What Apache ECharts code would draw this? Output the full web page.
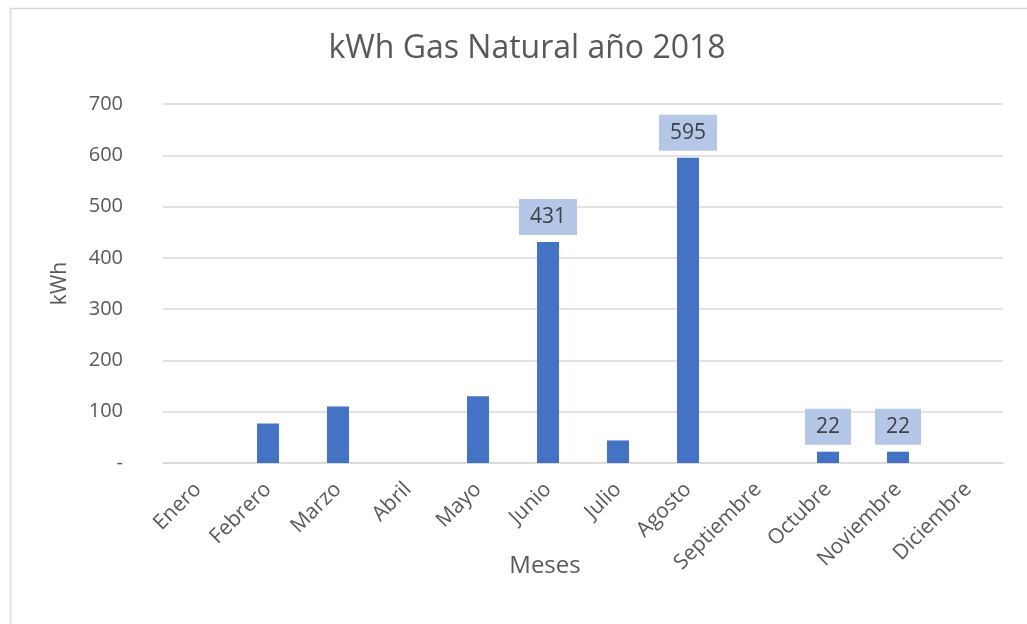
<!DOCTYPE html>
<html>
<head>
<meta charset="utf-8">
<script src="https://cdn.jsdelivr.net/npm/echarts@6/dist/echarts.min.js"></script>
<style>
  html, body { margin: 0; padding: 0; background: #fff; }
  #chart { width: 1027px; height: 624px; }
</style>
</head>
<body>
<div id="chart"></div>
<script>
var meses = ['Enero', 'Febrero', 'Marzo', 'Abril', 'Mayo', 'Junio', 'Julio', 'Agosto', 'Septiembre', 'Octubre', 'Noviembre', 'Diciembre'];
var kwh = [0, 77, 110, 0, 130, 431, 44, 595, 0, 22, 22, 0];
// months whose value is printed above the bar
var conEtiqueta = ['Junio', 'Agosto', 'Octubre', 'Noviembre'];

var fuente = '"Open Sans", "Noto Sans", sans-serif';

var datos = [];
for (var i = 0; i < kwh.length; i++) {
    var punto = { value: kwh[i] };
    if (conEtiqueta.indexOf(meses[i]) >= 0) {
        punto.label = {
            show: true,
            position: 'top',
            distance: 7,
            backgroundColor: '#B4C7E7',
            padding: [8, 11, 7, 11],
            color: '#404040',
            fontSize: 21,
            fontFamily: fuente
        };
    }
    datos.push(punto);
}

var chart = echarts.init(document.getElementById('chart'));

var option = {
    backgroundColor: '#fff',
    animation: false,
    graphic: [{
        type: 'rect',
        left: 8,
        top: 6,
        shape: { width: 1030, height: 630 },
        style: { fill: 'none', stroke: '#D9D9D9', lineWidth: 1.5 },
        silent: true
    }],
    title: {
        text: 'kWh Gas Natural año 2018',
        left: 522,
        top: 28,
        textAlign: 'center',
        textStyle: {
            fontFamily: fuente,
            fontWeight: 'normal',
            fontSize: 32,
            color: '#595959'
        }
    },
    grid: {
        left: 163,
        right: 24,
        top: 104,
        bottom: 161
    },
    xAxis: {
        type: 'category',
        data: meses,
        name: 'Meses',
        nameLocation: 'middle',
        nameGap: 91,
        nameMoveOverlap: false,
        nameTextStyle: { fontFamily: fuente, fontSize: 24, color: '#595959', padding: [0, 76, 0, 0] },
        axisLine: { lineStyle: { color: '#D9D9D9', width: 1.5 } },
        axisTick: { show: false },
        axisLabel: {
            rotate: 45,
            interval: 0,
            margin: 23,
            fontFamily: fuente,
            fontSize: 21,
            color: '#595959'
        }
    },
    yAxis: {
        type: 'value',
        min: 0,
        max: 700,
        interval: 100,
        name: 'kWh',
        nameLocation: 'middle',
        nameGap: 92,
        nameRotate: 90,
        nameTextStyle: { fontFamily: fuente, fontSize: 21, color: '#595959' },
        axisLine: { show: false },
        axisTick: { show: false },
        splitLine: { lineStyle: { color: '#D9D9D9', width: 1.5 } },
        axisLabel: {
            margin: 40,
            fontFamily: fuente,
            fontSize: 20,
            color: '#595959',
            formatter: function (v) { return v === 0 ? '-' : v; }
        }
    },
    series: [{
        name: 'kWh',
        type: 'bar',
        data: datos,
        barWidth: 22,
        itemStyle: { color: '#4472C4' }
    }]
};

chart.setOption(option);
</script>
</body>
</html>
